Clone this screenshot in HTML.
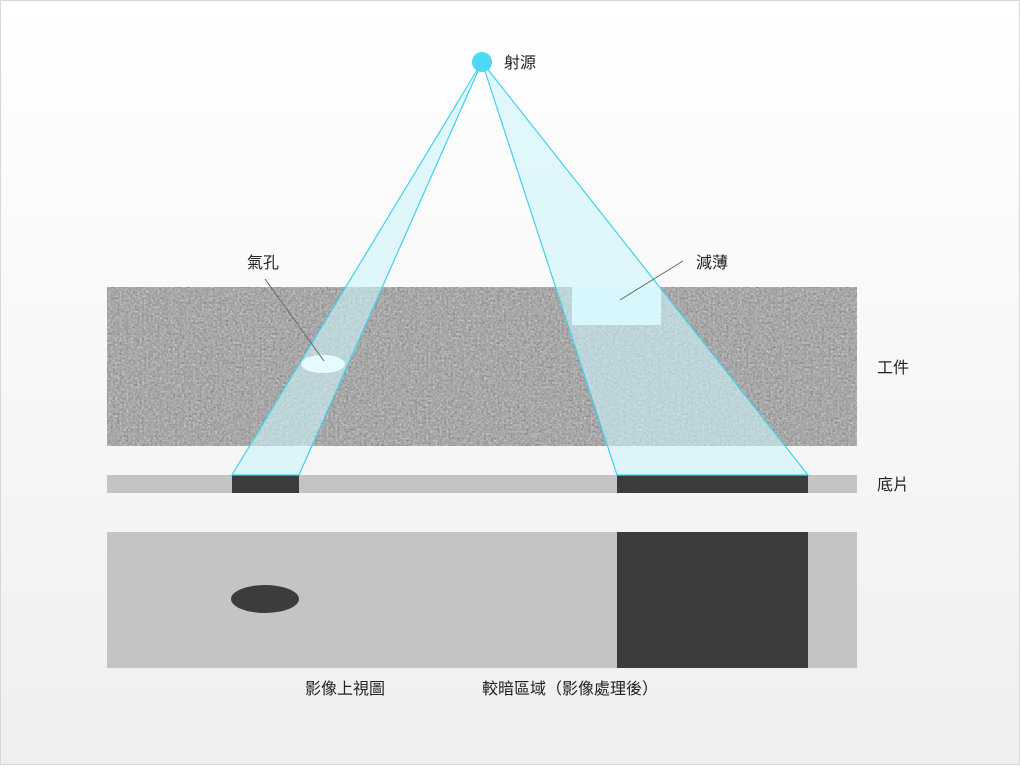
<!DOCTYPE html>
<html><head><meta charset="utf-8"><style>
html,body{margin:0;padding:0}
body{width:1020px;height:765px;overflow:hidden;font-family:"Liberation Sans","Noto Sans CJK TC",sans-serif}
</style></head><body>
<svg width="1020" height="765" xmlns="http://www.w3.org/2000/svg">
<defs>
<linearGradient id="bg" x1="0" y1="0" x2="0" y2="1">
<stop offset="0" stop-color="#ffffff"/><stop offset="1" stop-color="#efefef"/>
</linearGradient>
<filter id="noise" x="0" y="0" width="100%" height="100%" color-interpolation-filters="sRGB">
<feTurbulence type="fractalNoise" baseFrequency="0.45" numOctaves="3" seed="3" result="n"/>
<feColorMatrix in="n" type="matrix" values="0.33 0.33 0.33 0 0  0.33 0.33 0.33 0 0  0.33 0.33 0.33 0 0  0 0 0 0 1" result="g"/>
<feComponentTransfer in="g"><feFuncR type="linear" slope="0.6" intercept="0.36"/><feFuncG type="linear" slope="0.6" intercept="0.36"/><feFuncB type="linear" slope="0.6" intercept="0.36"/></feComponentTransfer>
</filter>
</defs>
<rect x="0.5" y="0.5" width="1019" height="764" fill="url(#bg)" stroke="#d8d8d8"/>
<rect x="107" y="287" width="750" height="159" fill="#a6a6a6"/>
<rect x="107" y="287" width="750" height="159" filter="url(#noise)"/>
<rect x="572" y="287" width="89" height="38" fill="#e8fcff"/>
<rect x="107" y="475" width="750" height="18" fill="#c4c4c4"/>
<rect x="232" y="475" width="67" height="18" fill="#3c3c3c"/>
<rect x="617" y="475" width="191" height="18" fill="#3c3c3c"/>
<polygon points="482,62 232,475 299,475" fill="#cdf4fc" fill-opacity="0.6" stroke="#3fd2ec" stroke-width="1.2"/>
<polygon points="482,62 617,475 808,475" fill="#cdf4fc" fill-opacity="0.6" stroke="#3fd2ec" stroke-width="1.2"/>
<ellipse cx="323" cy="364" rx="22" ry="9" fill="#e6fbff"/>
<line x1="265" y1="279" x2="324" y2="361" stroke="#666" stroke-width="1"/>
<line x1="683" y1="261" x2="620" y2="300" stroke="#666" stroke-width="1"/>
<circle cx="482" cy="62" r="10" fill="#4dd8f5"/>
<rect x="107" y="532" width="750" height="136" fill="#c4c4c4"/>
<rect x="617" y="532" width="191" height="136" fill="#3c3c3c"/>
<ellipse cx="265" cy="599" rx="34" ry="14" fill="#3c3c3c"/>
<g font-size="16" fill="#222" font-family="Liberation Sans, Noto Sans CJK TC, sans-serif">
<text x="504" y="68">射源</text>
<text x="247" y="268">氣孔</text>
<text x="696" y="268">減薄</text>
<text x="877" y="373">工件</text>
<text x="877" y="490">底片</text>
<text x="305" y="694">影像上視圖</text>
<text x="482" y="694">較暗區域（影像處理後）</text>
</g>
</svg>
</body></html>
